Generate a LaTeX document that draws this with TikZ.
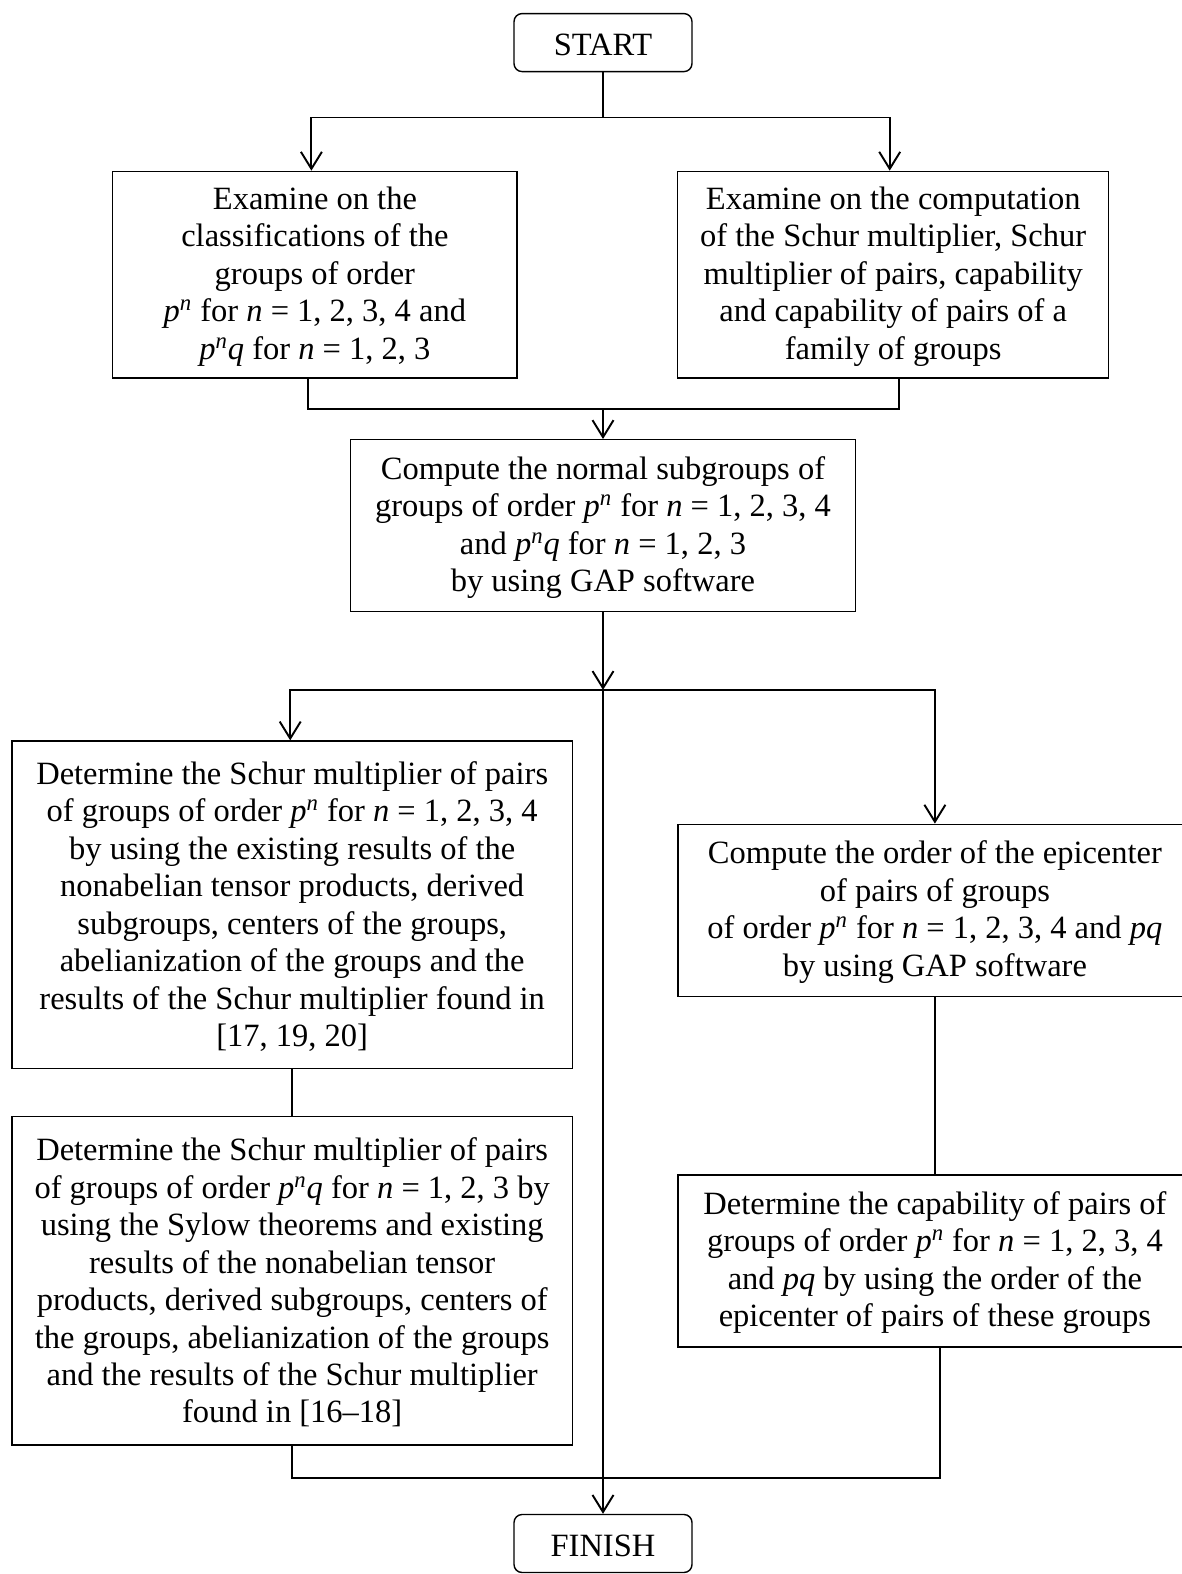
\documentclass[tikz,border=0pt]{standalone}
\usepackage{fontspec}
\setmainfont{Liberation Serif}
\usetikzlibrary{arrows.meta}
\newcommand{\pn}{\textit{p}\textsuperscript{\textit{n}}}
\newcommand{\nn}{\textit{n}}
\newcommand{\lift}{\rule{0pt}{15pt}}

\begin{document}
\begin{tikzpicture}[x=0.02cm,y=-0.02cm]
		\tikzstyle{every node}+=[inner sep=0pt,align=center,font=\fontsize{18.5}{21.3}\selectfont]
		\tikzstyle{box}=[draw,line width=0.8pt]
		\tikzstyle{term}=[draw,line width=0.8pt,rounded corners=0.16cm,minimum width=3.56cm,minimum height=1.16cm]
		\tikzstyle{conn}=[line width=1.1pt]
		\tikzstyle{arr}=[-{Straight Barb[length=0.34cm,width=0.42cm]}]
		\useasboundingbox (0,0) rectangle (1182,1574);
		\node [term] (start) at (603,42.6) {\lift START};
		\node [box,minimum width=8.09cm,minimum height=4.13cm] (ex1) at (314.9,274.6) {\lift Examine on the\\ classifications of the\\ groups of order\\ \pn{} for \nn{} = 1, 2, 3, 4 and\\ \pn\textit{q} for \nn{} = 1, 2, 3};
		\node [box,minimum width=8.62cm,minimum height=4.13cm] (ex2) at (893.2,274.6) {\lift Examine on the computation\\ of the Schur multiplier, Schur\\ multiplier of pairs, capability\\ and capability of pairs of a\\ family of groups};
		\node [box,minimum width=10.1cm,minimum height=3.44cm] (comp) at (603,525.7) {\lift Compute the normal subgroups of\\ groups of order \pn{} for \nn{} = 1, 2, 3, 4\\ and \pn\textit{q} for \nn{} = 1, 2, 3\\ by using GAP software};
		\node [box,minimum width=11.21cm,minimum height=6.55cm] (det1) at (292.2,904.8) {\lift Determine the Schur multiplier of pairs\\ of groups of order \pn{} for \nn{} = 1, 2, 3, 4\\ by using the existing results of the\\ nonabelian tensor products, derived\\ subgroups, centers of the groups,\\ abelianization of the groups and the\\ results of the Schur multiplier found in\\ {[17, 19, 20]}};
		\node [box,minimum width=11.21cm,minimum height=6.57cm] (det2) at (292.2,1280.9) {\lift Determine the Schur multiplier of pairs\\ of groups of order \pn\textit{q} for \nn{} = 1, 2, 3 by\\ using the Sylow theorems and existing\\ results of the nonabelian tensor\\ products, derived subgroups, centers of\\ the groups, abelianization of the groups\\ and the results of the Schur multiplier\\ found in [16--18]};
		\node [box,minimum width=10.28cm,minimum height=3.44cm] (epi) at (934.9,910.3) {\lift Compute the order of the epicenter\\ of pairs of groups\\ of order \pn{} for \nn{} = 1, 2, 3, 4 and \textit{pq}\\ by using GAP software};
		\node [box,minimum width=10.28cm,minimum height=3.44cm] (cap) at (934.9,1260.8) {\lift Determine the capability of pairs of\\ groups of order \pn{} for \nn{} = 1, 2, 3, 4\\ and \textit{pq} by using the order of the\\ epicenter of pairs of these groups};
		\node [term] (finish) at (603,1543.5) {\lift FINISH};
		% top split
		\draw [conn] (start.south) -- (603,117.5) coordinate (s1);
		\draw [conn,arr] (s1) -| ([xshift=-0.07cm]ex1.north);
		\draw [conn,arr] (s1) -| ([xshift=-0.07cm]ex2.north);
		\draw [conn] ([xshift=-0.13cm]ex1.south) |- (603,408.7) coordinate (m1) -| ([xshift=0.11cm]ex2.south);
		\draw [conn,arr] (m1) -- (comp.north);
		% middle split
		\draw [conn,arr] (comp.south) -- (603,689.9) coordinate (s2);
		\draw [conn,arr] (s2) -| ([xshift=-0.04cm]det1.north);
		\draw [conn,arr] (s2) -| (epi.north);
		\draw [conn] (det1) -- (det2);
		\draw [conn] (epi) -- (cap);
		% join at the bottom
		\draw [conn] (det2.south) |- (603,1478.2) coordinate (m2) -| ([xshift=0.1cm]cap.south);
		\draw [conn,arr] (s2) -- (finish.north);
	\end{tikzpicture}
\end{document}
